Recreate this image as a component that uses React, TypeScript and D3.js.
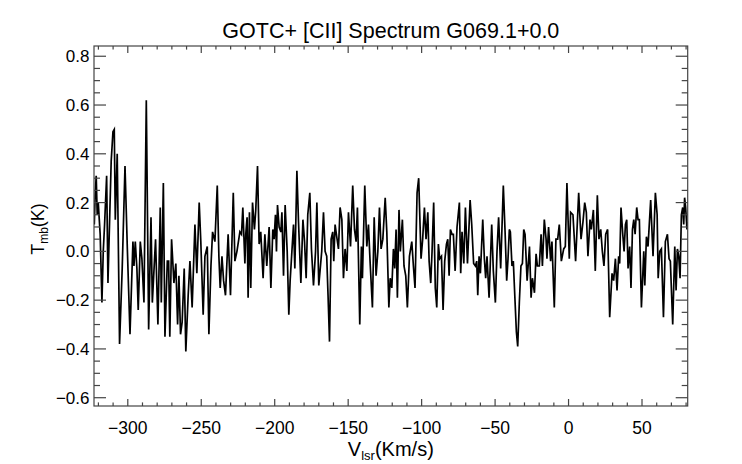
import React from 'react';
import * as d3 from 'd3';

// [CII] spectrum: [Vlsr (km/s), Tmb (K)]
const spectrum: [number, number][] = [
  [-322.8, 0.11], [-322.2, 0.23], [-321.5, 0.31], [-320.8, 0.15], [-320.1, 0.2], [-319.4, 0.13], [-318.8, 0.07],
  [-317.6, -0.21], [-316.7, 0.0], [-315.8, 0.11], [-314.4, 0.31], [-313.5, -0.13], [-312.4, 0.12], [-311.3, 0.37],
  [-310.1, 0.49], [-309.2, 0.5], [-308.5, 0.13], [-307.2, 0.4], [-305.6, -0.38], [-303.8, -0.07], [-301.9, 0.35],
  [-300.3, 0.01], [-298.5, -0.34], [-297.4, -0.13], [-296.5, 0.04], [-295.8, -0.06], [-294.9, 0.04], [-293.8, -0.07],
  [-292.9, -0.24], [-291.5, 0.04], [-290.4, -0.03], [-289.0, -0.21], [-287.4, 0.62], [-285.8, -0.32], [-284.2, 0.14],
  [-283.3, -0.21], [-281.1, 0.05], [-279.5, -0.3], [-277.9, 0.18], [-277.2, -0.21], [-275.8, 0.28], [-274.7, -0.35],
  [-273.1, -0.04], [-272.2, -0.04],
  [-271.4, -0.35], [-270.2, 0.05], [-268.6, -0.13], [-267.3, -0.05], [-266.1, -0.3], [-265.2, -0.1], [-264.1, -0.34],
  [-263.0, -0.29], [-261.6, -0.07], [-260.5, -0.41], [-258.9, -0.18], [-257.7, -0.04], [-256.2, -0.23], [-254.3, 0.11],
  [-253.0, -0.09], [-251.4, 0.2], [-250.3, 0.04], [-248.7, -0.26], [-247.5, -0.02], [-245.9, 0.02], [-244.8, -0.34],
  [-243.4, -0.06], [-242.3, 0.08], [-240.7, 0.04], [-239.1, 0.27], [-238.0, -0.02], [-237.1, -0.15], [-235.9, -0.02],
  [-234.8, -0.12], [-233.5, -0.18], [-231.7, 0.07], [-230.1, -0.18], [-228.2, 0.24], [-227.1, -0.04], [-225.7, 0.0],
  [-223.7, 0.08], [-222.6, 0.07], [-221.7, 0.18], [-220.3, -0.05],
  [-219.7, 0.07], [-218.8, 0.14], [-218.1, -0.19], [-217.2, 0.16], [-216.3, -0.15], [-215.1, 0.2], [-213.8, 0.09],
  [-212.9, 0.17], [-211.7, 0.35], [-210.6, 0.03], [-209.5, 0.08], [-207.9, -0.11], [-206.7, 0.07], [-205.4, -0.06],
  [-203.8, 0.1], [-202.6, -0.15], [-201.3, 0.09], [-200.4, 0.05], [-199.5, 0.15], [-198.8, 0.0], [-198.1, 0.19],
  [-197.0, 0.1], [-195.8, 0.08], [-195.1, 0.16], [-194.0, -0.1], [-192.9, 0.19], [-191.5, 0.0], [-190.4, -0.26],
  [-189.5, -0.12], [-188.3, 0.0], [-187.2, 0.11], [-186.3, -0.07], [-184.9, 0.33], [-183.8, 0.12], [-182.2, -0.13],
  [-180.8, 0.13], [-179.7, 0.04], [-178.6, -0.11], [-177.5, 0.15], [-176.1, 0.24], [-175.0, 0.01], [-173.6, -0.14],
  [-172.2, 0.0], [-171.3, 0.2], [-170.0, -0.14],
  [-168.0, 0.0], [-166.8, 0.16], [-165.7, 0.0], [-164.6, -0.02], [-163.7, -0.18], [-162.7, -0.37], [-161.6, 0.05],
  [-160.5, 0.08], [-159.8, -0.04], [-158.9, 0.11], [-157.8, 0.06], [-156.6, 0.01], [-155.5, 0.18], [-154.3, 0.13],
  [-153.2, -0.11], [-152.1, 0.01], [-150.9, -0.08], [-149.8, 0.16], [-148.4, 0.02], [-146.9, 0.27], [-145.7, 0.09],
  [-144.6, 0.04], [-143.7, 0.18], [-142.1, -0.3], [-141.0, 0.02], [-140.3, -0.11], [-138.7, 0.27], [-137.3, 0.02],
  [-136.2, 0.11], [-135.1, -0.04], [-133.5, -0.23], [-132.3, 0.14], [-131.0, -0.1], [-129.8, 0.0], [-128.7, 0.18],
  [-127.6, 0.01], [-126.4, 0.05], [-124.8, 0.22], [-123.7, 0.08], [-122.3, -0.23], [-121.4, -0.11], [-120.3, -0.15],
  [-119.2, 0.01], [-118.3, -0.07], [-117.4, 0.09],
  [-116.5, -0.19], [-115.4, 0.17], [-114.5, 0.0], [-113.1, 0.13], [-112.0, -0.06], [-110.8, -0.1], [-109.7, -0.23],
  [-108.3, -0.02], [-106.7, 0.04], [-105.6, -0.06], [-104.5, -0.15], [-103.1, 0.24], [-102.0, 0.3], [-100.4, -0.03],
  [-99.3, 0.05], [-98.1, 0.18], [-97.0, 0.05], [-95.8, 0.16], [-94.9, -0.04], [-93.8, -0.13], [-92.9, 0.0],
  [-91.8, 0.2], [-90.7, -0.15], [-89.7, -0.23], [-88.6, 0.03], [-87.7, -0.03], [-86.5, -0.02], [-85.4, -0.24],
  [-84.3, -0.04], [-83.1, 0.03], [-82.2, 0.05], [-81.3, -0.1], [-80.4, 0.09], [-79.3, 0.07], [-78.4, 0.07],
  [-77.2, -0.08], [-75.9, 0.1], [-74.3, 0.2], [-73.4, -0.09], [-72.5, 0.08], [-71.3, -0.05], [-70.2, 0.18],
  [-68.8, -0.05], [-67.0, 0.21], [-65.9, 0.11],
  [-64.6, -0.05], [-63.4, -0.06], [-62.5, -0.04], [-61.8, -0.18], [-60.9, -0.02], [-60.0, -0.09], [-58.4, 0.13],
  [-57.3, -0.03], [-56.4, -0.11], [-55.5, -0.02], [-54.1, -0.19], [-52.3, 0.11], [-51.2, -0.08], [-49.8, -0.21],
  [-48.7, 0.0], [-47.6, 0.14], [-46.2, -0.07], [-44.4, 0.27], [-43.2, 0.08], [-42.1, -0.12], [-41.2, -0.03],
  [-40.3, 0.09], [-39.6, 0.08], [-38.5, -0.06], [-37.6, -0.04], [-36.6, -0.18], [-35.5, -0.33], [-34.6, -0.39],
  [-33.5, -0.21], [-32.4, -0.06], [-31.4, -0.05], [-30.5, 0.09], [-29.6, 0.07], [-28.2, -0.12], [-26.6, 0.02],
  [-25.5, -0.19], [-24.6, -0.11], [-23.2, -0.17], [-22.1, -0.01], [-21.2, -0.06], [-19.9, -0.06], [-18.7, 0.07],
  [-17.8, -0.06], [-16.5, 0.13], [-15.3, 0.05], [-14.7, -0.03], [-13.6, 0.1],
  [-12.2, -0.04], [-11.3, 0.04], [-9.7, -0.23], [-8.6, 0.05], [-7.4, 0.05], [-6.3, 0.11], [-4.9, -0.04],
  [-3.3, 0.01], [-2.2, 0.02], [-1.1, 0.28], [0.5, -0.03], [1.4, 0.16], [3.0, 0.15], [4.8, -0.04], [6.9, 0.24],
  [8.5, 0.05], [9.8, 0.12], [11.0, 0.2], [12.1, 0.16], [13.2, -0.02], [14.6, 0.13], [15.5, 0.09], [16.9, 0.17],
  [18.2, -0.08], [19.6, 0.23], [20.7, 0.05], [21.9, 0.09], [23.0, 0.0], [24.1, -0.06], [25.3, 0.07], [26.6, 0.09],
  [28.0, -0.27], [29.6, -0.09], [30.7, -0.12], [31.9, -0.03], [33.0, -0.16],
  [34.1, -0.02], [34.8, -0.05], [35.7, 0.18], [36.9, 0.07], [37.8, 0.0], [38.7, 0.11], [39.6, 0.13], [40.5, -0.07],
  [41.6, 0.02], [42.5, -0.15], [43.5, 0.09], [44.4, 0.13], [45.3, 0.07], [46.4, 0.18], [47.3, 0.13], [48.2, 0.13],
  [49.6, -0.23], [51.2, 0.0], [51.9, -0.14], [53.0, 0.06], [54.1, 0.02], [55.9, 0.21], [57.5, -0.02], [59.1, 0.24],
  [60.3, 0.15], [61.0, -0.11], [62.1, 0.0], [63.2, 0.01], [64.6, -0.27], [65.9, 0.04], [67.3, 0.07], [68.4, -0.03],
  [69.3, -0.04], [70.9, -0.3], [72.3, 0.02], [73.2, -0.16], [74.1, 0.01], [75.0, -0.02], [75.9, -0.11], [76.8, 0.15],
  [77.7, 0.18], [78.4, 0.11], [79.0, 0.22], [79.7, 0.18], [80.6, 0.09], [81.5, 0.12],
];

const xMajorTicks = [-300, -250, -200, -150, -100, -50, 0, 50];
const xMinorTicks = [
  -320, -310, -290, -280, -270, -260, -240, -230, -220, -210, -190, -180, -170, -160, -140, -130, -120, -110,
  -90, -80, -70, -60, -40, -30, -20, -10, 10, 20, 30, 40, 60, 70, 80,
];
const yMajorTicks = [-0.6, -0.4, -0.2, 0.0, 0.2, 0.4, 0.6, 0.8];
const yMinorTicks = [-0.55, -0.5, -0.45, -0.35, -0.3, -0.25, -0.15, -0.1, -0.05, 0.05, 0.1, 0.15, 0.25, 0.3, 0.35, 0.45, 0.5, 0.55, 0.65, 0.7, 0.75];

const titleText = 'GOTC+ [CII] Spectrum G069.1+0.0';

const W = 742;
const H = 464;
const left = 94;
const right = 687.7;
const top = 46;
const bottom = 406;
const font = '"Liberation Sans", Arial, Helvetica, sans-serif';
const axisColor = '#444';

const fmtX = (v: number) => (v < 0 ? '\u2212' + Math.abs(v) : String(v));
const fmtY = (v: number) => (v < -1e-9 ? '\u2212' + Math.abs(v).toFixed(1) : Math.abs(v).toFixed(1));

export default function App() {
  const x = d3.scaleLinear().domain([-323, 81.1]).range([left, right]);
  const y = d3.scaleLinear().domain([-0.634, 0.842]).range([bottom, top]);

  const line = d3.line<[number, number]>()
    .x(d => x(d[0]))
    .y(d => y(d[1]));

  const xMajLen = 7;
  const xMinLen = 3.6;
  const yMajLen = 12;
  const yMinLen = 6;

  return (
    <div style={{ position: 'absolute', left: 0, top: 0 }}>
      <svg width={W} height={H} viewBox={`0 0 ${W} ${H}`} style={{ display: 'block', background: '#fff' }}>
        <defs>
          <clipPath id="plotClip">
            <rect x={left} y={top} width={right - left} height={bottom - top} />
          </clipPath>
        </defs>

        <path d={line(spectrum) || ''} fill="none" stroke="#000" strokeWidth={1.7}
          strokeLinejoin="miter" clipPath="url(#plotClip)" />

        {/* frame */}
        <rect x={left} y={top} width={right - left} height={bottom - top} fill="none" stroke={axisColor} strokeWidth={1.2} />

        {/* x ticks, bottom and top */}
        {xMajorTicks.map(t => (
          <g key={'xM' + t}>
            <line x1={x(t)} x2={x(t)} y1={bottom} y2={bottom - xMajLen} stroke={axisColor} strokeWidth={1.2} />
            <line x1={x(t)} x2={x(t)} y1={top} y2={top + xMajLen} stroke={axisColor} strokeWidth={1.2} />
            <text x={x(t)} y={434} textAnchor="middle" fontFamily={font} fontSize={17.5} fill="#000">{fmtX(t)}</text>
          </g>
        ))}
        {xMinorTicks.map(t => (
          <g key={'xm' + t}>
            <line x1={x(t)} x2={x(t)} y1={bottom} y2={bottom - xMinLen} stroke={axisColor} strokeWidth={1.2} />
            <line x1={x(t)} x2={x(t)} y1={top} y2={top + xMinLen} stroke={axisColor} strokeWidth={1.2} />
          </g>
        ))}

        {/* y ticks, left and right */}
        {yMajorTicks.map(t => (
          <g key={'yM' + t}>
            <line x1={left} x2={left + yMajLen} y1={y(t)} y2={y(t)} stroke={axisColor} strokeWidth={1.2} />
            <line x1={right} x2={right - yMajLen} y1={y(t)} y2={y(t)} stroke={axisColor} strokeWidth={1.2} />
            <text x={89.5} y={y(t) + 6} textAnchor="end" fontFamily={font} fontSize={17} fill="#000">{fmtY(t)}</text>
          </g>
        ))}
        {yMinorTicks.map(t => (
          <g key={'ym' + t}>
            <line x1={left} x2={left + yMinLen} y1={y(t)} y2={y(t)} stroke={axisColor} strokeWidth={1.2} />
            <line x1={right} x2={right - yMinLen} y1={y(t)} y2={y(t)} stroke={axisColor} strokeWidth={1.2} />
          </g>
        ))}

        {/* title */}
        <text x={(left + right) / 2} y={38} textAnchor="middle" fontFamily={font} fontSize={21.5} fill="#000">{titleText}</text>

        {/* x axis label */}
        <text x={(left + right) / 2} y={456} textAnchor="middle" fontFamily={font} fontSize={20} fill="#000">
          <tspan>V</tspan>
          <tspan fontSize={13} dy={4}>lsr</tspan>
          <tspan dy={-4}>(Km/s)</tspan>
        </text>

        {/* y axis label */}
        <text transform={`translate(43.5, 229) rotate(-90)`} textAnchor="middle" fontFamily={font} fontSize={18} fill="#000">
          <tspan>T</tspan>
          <tspan fontSize={12} dy={4}>mb</tspan>
          <tspan dy={-4}>(K)</tspan>
        </text>
      </svg>
    </div>
  );
}
